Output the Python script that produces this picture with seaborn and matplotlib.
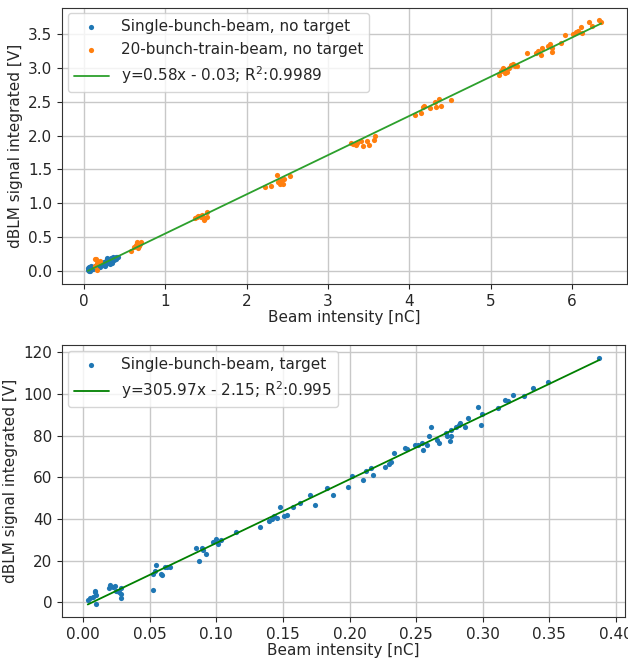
import numpy as np
import pandas as pd
import matplotlib
matplotlib.use("Agg")
import matplotlib.pyplot as plt
import seaborn as sns

# gornji graf: bez mete
single_x = [0.05, 0.055, 0.06, 0.065, 0.07, 0.075, 0.08, 0.085, 0.09, 0.10, 0.11, 0.12, 0.13, 0.14,
            0.16, 0.18, 0.20, 0.21, 0.22, 0.23, 0.24, 0.25, 0.26, 0.27, 0.28, 0.29, 0.30, 0.30, 0.31,
            0.32, 0.32, 0.33, 0.34, 0.35, 0.35, 0.36, 0.37, 0.38, 0.39, 0.40, 0.41, 0.42, 0.28, 0.26, 0.33]
single_y = [0.01, 0.04, -0.01, 0.06, 0.02, 0.05, 0.00, 0.07, 0.03, 0.05, 0.02, 0.06, 0.04, 0.07,
            0.05, 0.08, 0.06, 0.10, 0.08, 0.12, 0.09, 0.13, 0.10, 0.15, 0.12, 0.16, 0.11, 0.18, 0.14,
            0.17, 0.10, 0.19, 0.15, 0.18, 0.12, 0.20, 0.16, 0.19, 0.21, 0.18, 0.20, 0.21, 0.19, 0.07, 0.13]

train_x = [0.133, 0.155, 0.164, 0.168, 0.195, 0.142,
           0.576, 0.62, 0.642, 0.651, 0.673, 0.686, 0.70, 0.664,
           1.364, 1.395, 1.426, 1.453, 1.475, 1.492, 1.515, 1.519, 1.439, 1.408,
           2.228, 2.294, 2.374, 2.383, 2.405, 2.422, 2.445, 2.462, 2.533,
           3.286, 3.313, 3.344, 3.401, 3.428, 3.477, 3.508, 3.57, 3.578, 3.357,
           4.074, 4.141, 4.163, 4.185, 4.252, 4.318, 4.327, 4.362, 4.384, 4.508,
           5.106, 5.128, 5.146, 5.172, 5.199, 5.226, 5.252, 5.27, 5.292, 5.323, 5.159,
           5.447, 5.558, 5.58, 5.615, 5.633, 5.704, 5.722, 5.748, 5.757, 5.859, 5.917,
           6.014, 6.045, 6.076, 6.103, 6.125, 6.209, 6.244, 6.324, 6.355]
train_y = [0.17, 0.18, 0.11, 0.005, 0.14, 0.064,
           0.30, 0.35, 0.38, 0.42, 0.37, 0.39, 0.42, 0.33,
           0.775, 0.799, 0.809, 0.824, 0.75, 0.775, 0.799, 0.873, 0.789, 0.814,
           1.24, 1.25, 1.41, 1.31, 1.29, 1.34, 1.28, 1.35, 1.40,
           1.887, 1.868, 1.853, 1.917, 1.843, 1.912, 1.863, 1.936, 2.0, 1.887,
           2.309, 2.333, 2.417, 2.441, 2.407, 2.49, 2.426, 2.539, 2.441, 2.525,
           2.897, 2.956, 3.005, 2.931, 2.941, 3.005, 3.039, 3.064, 3.029, 3.025, 2.98,
           3.216, 3.225, 3.25, 3.191, 3.299, 3.324, 3.348, 3.24, 3.299, 3.363, 3.49,
           3.495, 3.529, 3.544, 3.603, 3.51, 3.681, 3.618, 3.701, 3.676]

fit1_k, fit1_n, fit1_r2 = 0.58, -0.03, 0.9989

# donji graf: s metom
target_x = [0.0036, 0.0055, 0.0074, 0.0087, 0.0087, 0.0096, 0.0101, 0.0197, 0.0205, 0.0224, 0.0238,
            0.0251, 0.0268, 0.0287, 0.0287, 0.0287, 0.0527, 0.0527, 0.0538, 0.0549, 0.0585, 0.059,
            0.0612, 0.0631, 0.065, 0.085, 0.087, 0.089, 0.0899, 0.0923, 0.0975, 0.0995, 0.1016,
            0.1038, 0.1148, 0.1328, 0.1399, 0.1415, 0.1434, 0.1459, 0.1481, 0.1511, 0.1533, 0.1574,
            0.1631, 0.1702, 0.174, 0.1828, 0.1874, 0.1986, 0.2019, 0.2101, 0.212, 0.2158, 0.2175,
            0.2268, 0.2298, 0.2309, 0.2333, 0.2415, 0.2434, 0.2492, 0.2514, 0.2544, 0.2549, 0.2582,
            0.2598, 0.2612, 0.2653, 0.2672, 0.2724, 0.2735, 0.2751, 0.276, 0.2765, 0.28, 0.282,
            0.283, 0.2863, 0.289, 0.2964, 0.2984, 0.2992, 0.3115, 0.3169, 0.3188, 0.3224, 0.3306,
            0.3374, 0.3489, 0.3874]
target_y = [1.3, 1.9, 2.7, 4.8, 5.6, 3.5, -0.6, 6.7, 8.3, 7.5, 7.6,
            5.2, 4.8, 7.0, 3.8, 2.2, 5.9, 13.8, 15.1, 17.8, 13.8, 13.0,
            17.1, 17.1, 16.8, 26.3, 19.8, 26.0, 25.1, 23.3, 29.2, 30.5, 28.1,
            29.8, 34.0, 36.2, 39.2, 40.2, 41.6, 40.5, 45.6, 41.3, 41.7, 45.9,
            47.8, 51.7, 46.7, 54.8, 51.7, 55.4, 60.6, 58.7, 62.9, 64.3, 61.0,
            65.2, 66.2, 67.5, 71.6, 74.3, 73.7, 75.4, 75.7, 76.5, 73.3, 75.7,
            79.7, 84.1, 77.8, 76.7, 81.3, 79.7, 77.6, 82.7, 80.0, 84.1, 85.2,
            86.2, 84.4, 88.4, 94.0, 85.1, 90.5, 93.2, 97.3, 96.5, 99.8, 98.9,
            102.9, 105.9, 117.5]

fit2_k, fit2_n, fit2_r2 = 305.97, -2.15, 0.995

sns.set_style("ticks", {"axes.grid": True, "grid.color": "#c8c8c8"})
plt.rcParams["font.family"] = ["DejaVu Sans"]
fs = 11

fig = plt.figure(figsize=(6.28, 6.59), dpi=100)
ax1 = fig.add_axes([0.099, 0.569, 0.899, 0.419])
ax2 = fig.add_axes([0.099, 0.064, 0.896, 0.412])

# gornji
sns.scatterplot(x=single_x, y=single_y, ax=ax1, color="tab:blue", s=14, linewidth=0,
                label="Single-bunch-beam, no target")
sns.scatterplot(x=train_x, y=train_y, ax=ax1, color="tab:orange", s=14, linewidth=0,
                label="20-bunch-train-beam, no target")
all_x = np.array(single_x + train_x)
lx = np.array([all_x.min(), all_x.max()])
sns.lineplot(x=lx, y=fit1_k * lx + fit1_n, ax=ax1, color="tab:green", linewidth=1.3,
             label=f"y={fit1_k}x - {abs(fit1_n)}; R$^2$:{fit1_r2}")
ax1.set_xlabel("Beam intensity [nC]", fontsize=fs, labelpad=1)
ax1.set_ylabel("dBLM signal integrated [V]", fontsize=fs)
ax1.set_yticks(np.arange(0, 3.6, 0.5))
ax1.tick_params(labelsize=fs)
ax1.legend(loc="upper left", fontsize=fs, handlelength=2.3, borderaxespad=0.35)

# donji
sns.scatterplot(x=target_x, y=target_y, ax=ax2, color="tab:blue", s=14, linewidth=0,
                label="Single-bunch-beam, target")
tx = np.array([min(target_x), max(target_x)])
sns.lineplot(x=tx, y=fit2_k * tx + fit2_n, ax=ax2, color="green", linewidth=1.3,
             label=f"y={fit2_k}x - {abs(fit2_n)}; R$^2$:{fit2_r2}")
ax2.set_xlabel("Beam intensity [nC]", fontsize=fs, labelpad=1)
ax2.set_ylabel("dBLM signal integrated [V]", fontsize=fs)
ax2.set_xticks(np.arange(0, 0.41, 0.05))
ax2.tick_params(labelsize=fs)
ax2.legend(loc="upper left", fontsize=fs, handlelength=2.3, borderaxespad=0.35)

for ax in (ax1, ax2):
    ax.grid(True, linewidth=1.0)
    for sp in ax.spines.values():
        sp.set_visible(True)
        sp.set_color("#333333")

fig.savefig("out.png", dpi=100)
